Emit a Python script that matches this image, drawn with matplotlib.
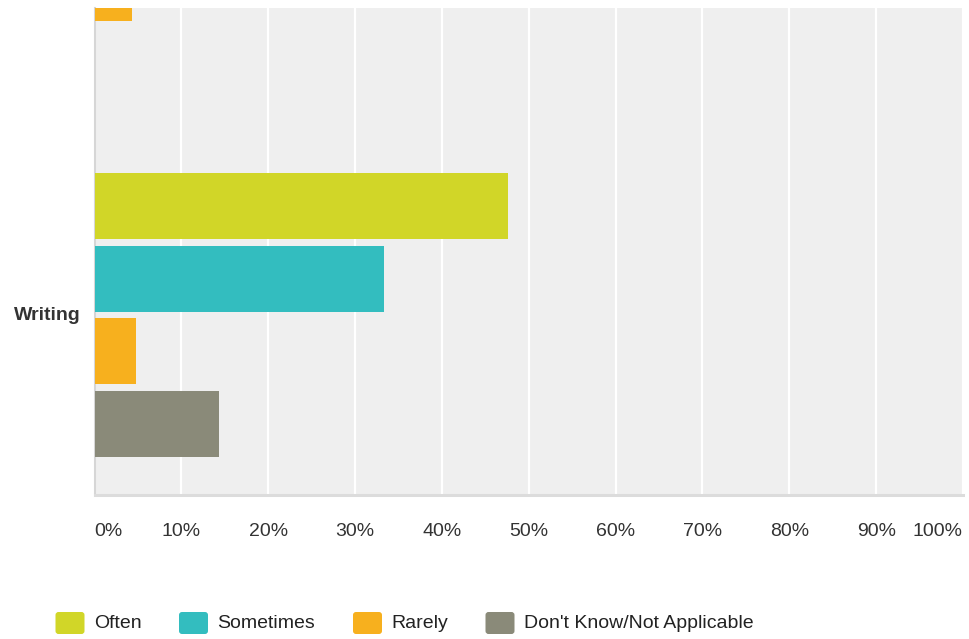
import numpy as np
import matplotlib
matplotlib.use("Agg")
from matplotlib import pyplot as plt
from matplotlib.patches import FancyBboxPatch

plt.rcParams['font.family'] = ['Liberation Sans', 'DejaVu Sans']

# data (percent of respondents); the first group is cut off by the view
categories = ["", "Writing"]
series = ["Often", "Sometimes", "Rarely", "Don't Know/Not Applicable"]
often = [0.0, 47.62]
sometimes = [0.0, 33.33]
rarely = [4.35, 4.76]
dont_know = [0.0, 14.29]
tick_values = [0, 10, 20, 30, 40, 50, 60, 70, 80, 90, 100]
tick_labels = [f"{v}%" for v in tick_values]

colors = ['#d1d628', '#33bdbf', '#f7b01e', '#8a8a79']
W, H = 969, 639

fig = plt.figure(figsize=(W / 100, H / 100), dpi=100)
ax = fig.add_axes([94.5 / W, 1 - 495 / H, (963 - 94.5) / W, (495 - 8) / H])
ax.set_facecolor('#efefef')

y = np.arange(len(categories))
offsets = [-0.3, -0.1, 0.1, 0.3]
for vals, off, c, name in zip([often, sometimes, rarely, dont_know], offsets, colors, series):
    ax.barh(y + off, vals, height=0.182, color=c, label=name, zorder=3)

ax.set_xlim(0, 100)
ax.set_ylim(1.496, 0.154)
ax.set_yticks([1])
ax.set_yticklabels(["Writing"], fontsize=14, fontweight='bold', color='#333333')
ax.tick_params(axis='y', length=0, pad=10)
for t in ax.get_yticklabels():
    t.set_va('center')

ax.set_xticks(tick_values)
ax.set_xticklabels(tick_labels, fontsize=14, color='#333333')
ax.tick_params(axis='x', length=0, pad=20)
xl = ax.get_xticklabels()
xl[0].set_ha('left')
xl[-1].set_ha('right')

ax.grid(axis='x', color='white', linewidth=1.6, zorder=1)
ax.set_axisbelow(True)
for s in ['top', 'right']:
    ax.spines[s].set_visible(False)
ax.spines['bottom'].set_color('#dcdcdc')
ax.spines['bottom'].set_linewidth(2.2)
ax.spines['left'].set_color('#d6d6d6')
ax.spines['left'].set_linewidth(1.5)

# legend drawn in pixel coordinates
lax = fig.add_axes([0, 0, 1, 1])
lax.set_xlim(0, W)
lax.set_ylim(H, 0)
lax.axis('off')
leg_x = [55.5, 179, 353, 485.5]
for lx, c, name in zip(leg_x, colors, series):
    lax.add_patch(FancyBboxPatch((lx, 612), 29, 22, boxstyle="round,pad=0,rounding_size=3",
                                 facecolor=c, edgecolor='none'))
    lax.text(lx + 38.5, 623, name, fontsize=14, color='#222222', va='center', ha='left')

plt.savefig("out.png")
plt.close()
